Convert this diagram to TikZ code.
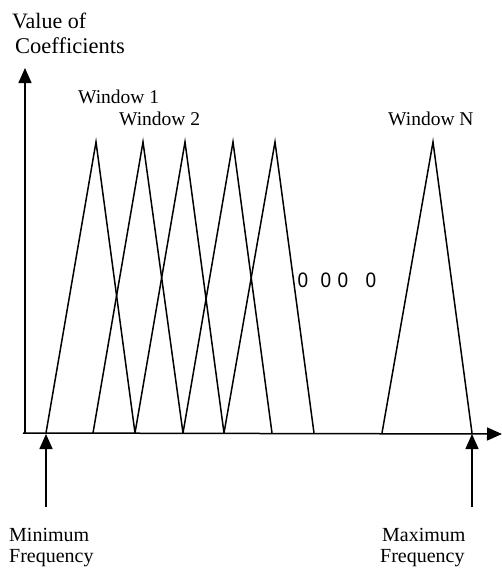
\documentclass[tikz,border=0pt]{standalone}
\usepackage{fontspec}
\setmainfont{Liberation Serif}
\newfontfamily\dotfont{Liberation Sans}
\usetikzlibrary{arrows.meta}
\tikzset{
  axis/.style={line width=1.5pt, -{Triangle[length=15pt,width=13pt]}},
  win/.style={line width=1.5pt},
  lab/.style={anchor=base west, inner sep=0pt, font=\fontsize{19.5}{22}\selectfont},
}
\begin{document}
\begin{tikzpicture}[x=1pt,y=-1pt]
  \useasboundingbox (0,0) rectangle (502,568);
  % axes
  \draw[axis] (25,433) -- (25,68);
  \draw[axis] (23,433) -- (502,434);
  \node[lab, font=\fontsize{22}{24}\selectfont] (val) at (12,28) {Value of};
  \node[lab, font=\fontsize{22.5}{24}\selectfont] (coef) at (15,53) {Coefficients};
  % windows
  \foreach \l/\p/\r in {46/96/135, 93/143/183, 135/185/224, 183/233/272, 224/275/314, 382/433/472}
    \draw[win] (\l,433) -- (\p,142) -- (\r,433);
  \node[lab] (w1) at (78,103) {Window 1};
  \node[lab] (w2) at (119,125) {Window 2};
  \node[lab] (wn) at (388,125) {Window N};
  \foreach \x [count=\i] in {303,326,343,371}
    \node[font=\dotfont\fontsize{19}{20}\selectfont, inner sep=0pt, yscale=1.1] (o\i) at (\x,280) {0};
  % frequency limits
  \draw[axis] (46,507) -- (46,434);
  \draw[axis] (472,507) -- (472,434);
  \node[lab, font=\fontsize{20}{22}\selectfont] (minf) at (9,541) {Minimum};
  \node[lab, font=\fontsize{20}{22}\selectfont] (minf2) at (9,562) {Frequency};
  \node[lab, font=\fontsize{20}{22}\selectfont] (maxf) at (382,541) {Maximum};
  \node[lab, font=\fontsize{20}{22}\selectfont] (maxf2) at (380,562) {Frequency};
\end{tikzpicture}
\end{document}
